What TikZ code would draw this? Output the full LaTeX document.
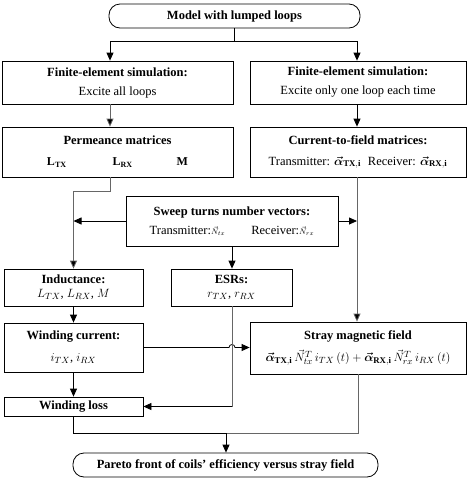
\documentclass[tikz,border=0pt]{standalone}
\usepackage{amsmath}
\usepackage{fontspec}
\setmainfont{Liberation Serif}
\usetikzlibrary{arrows.meta,calc}
\begin{document}
\begin{tikzpicture}[x=1pt,y=-1pt,
  box/.style={draw, line width=0.8pt, inner sep=0pt, align=center,
    font=\fontsize{12.5}{14}\selectfont},
  term/.style={box, rounded corners=11pt, font=\fontsize{12.5}{14}\selectfont\bfseries},
  conn/.style={line width=0.8pt},
  gconn/.style={line width=0.8pt, draw=black!60},
  arr/.style={conn, -{Triangle[length=8pt,width=7pt]}},
  garr/.style={gconn, -{Triangle[length=8pt,width=7pt,fill=black]}}
]
\useasboundingbox (0,0) rectangle (469,483);
\coordinate (cL) at (110,0);
\coordinate (cR) at (357,0);
\coordinate (j1) at (234.5,41);
\coordinate (j2) at (226,433);

\node[term, minimum width=251pt, minimum height=24pt] (top) at (234.5,16) {Model with lumped loops};

\node[box, minimum width=231pt, minimum height=43pt] (fe1) at (117.5,82.5)
  {\textbf{Finite-element simulation:}\\[5pt] Excite all loops};
\node[box, minimum width=216pt, minimum height=43pt] (fe2) at (358,82.5)
  {\textbf{Finite-element simulation:}\\[5pt] Excite only one loop each time};

\node[box, minimum width=231pt, minimum height=50pt] (perm) at (117.5,152)
  {\textbf{Permeance matrices}\\[7pt]
   {\large$\mathbf{L}_{\mathbf{TX}}$\hspace{46pt}$\mathbf{L}_{\mathbf{RX}}$\hspace{44pt}$\mathbf{M}$}};
\node[box, minimum width=216pt, minimum height=50pt] (ctf) at (358,152)
  {\textbf{Current-to-field matrices:}\\[7pt]
   Transmitter: $\boldsymbol{\vec{\alpha}}_{\mathbf{TX,i}}$\hspace{7pt}Receiver: $\boldsymbol{\vec{\alpha}}_{\mathbf{RX,i}}$};

\node[box, minimum width=212pt, minimum height=50pt] (sweep) at (232,221)
  {\textbf{Sweep turns number vectors:}\\[5pt]
   Transmitter:{\footnotesize$\vec{N}_{tx}$}\hspace{26pt}Receiver:{\footnotesize$\vec{N}_{rx}$}};

\node[box, minimum width=139pt, minimum height=37pt] (ind) at (73.5,287.5)
  {\textbf{Inductance:}\\[0pt] $L_{TX}$, $L_{RX}$, $M$};
\node[box, minimum width=121pt, minimum height=37pt] (esr) at (231.5,287.5)
  {\textbf{ESRs:}\\[0pt] $r_{TX}$, $r_{RX}$};

\node[box, minimum width=139pt, minimum height=49pt] (wc) at (73.5,347.5)
  {\textbf{Winding current:}\\[8pt] $i_{TX}$, $i_{RX}$};
\node[box, minimum width=216pt, minimum height=52pt] (stray) at (358,348)
  {\textbf{Stray magnetic field}\\[7pt]
   $\boldsymbol{\vec{\alpha}}_{\mathbf{TX,i}}\,\vec{N}^{T}_{tx}\, i_{TX}\,(t)+\boldsymbol{\vec{\alpha}}_{\mathbf{RX,i}}\,\vec{N}^{T}_{rx}\, i_{RX}\,(t)$};

\node[box, minimum width=139pt, minimum height=19pt, font=\fontsize{12.5}{14}\selectfont\bfseries] (wl) at (73.5,406.5) {Winding loss};

\node[term, minimum width=305pt, minimum height=24pt] (pareto) at (225.5,465)
  {Pareto front of coils' efficiency versus stray field};

% connectors
\draw[conn] (top.south) -- (j1);
\draw[arr] (j1) -| (fe1.north -| cL);
\draw[arr] (j1) -| (fe2.north -| cR);
\draw[garr] (fe1.south -| cL) -- (perm.north -| cL);
\draw[arr] (fe2.south -| cR) -- (ctf.north -| cR);
\draw[gconn] (perm.south -| cL) -- ++(0,14) -| (sweep.west -| ind.north);
\draw[garr] (sweep.west -| ind.north) -- (ind.north);
\draw[arr] (sweep.west) -- (sweep.west -| ind.north);
\draw[arr] (sweep.east) -- (sweep.east -| cR);
\draw[gconn] (ctf.south -| cR) -- (sweep.east -| cR);
\draw[garr] (sweep.east -| cR) -- (stray.north -| cR);
\draw[arr] (sweep.south) -- (esr.north -| sweep.south);
\draw[arr] (ind.south) -- (wc.north);
\draw[arr] (wc.south) -- (wl.north);
\draw[arr] (wc.east) -- ($(wc.east -| sweep.south)+(-3,0)$) arc[start angle=180,end angle=0,radius=3pt] -- (stray.west |- wc.east);
\draw[gconn] (esr.south -| sweep.south) -- (sweep.south |- wl.east);
\draw[arr] (sweep.south |- wl.east) -- (wl.east);
\draw[conn] (wl.south) -- (wl.south |- j2) -- (j2);
\draw[gconn] (j2) -- (stray.south |- j2) -- (stray.south);
\draw[arr] (j2) -- (pareto.north -| j2);
\end{tikzpicture}
\end{document}
